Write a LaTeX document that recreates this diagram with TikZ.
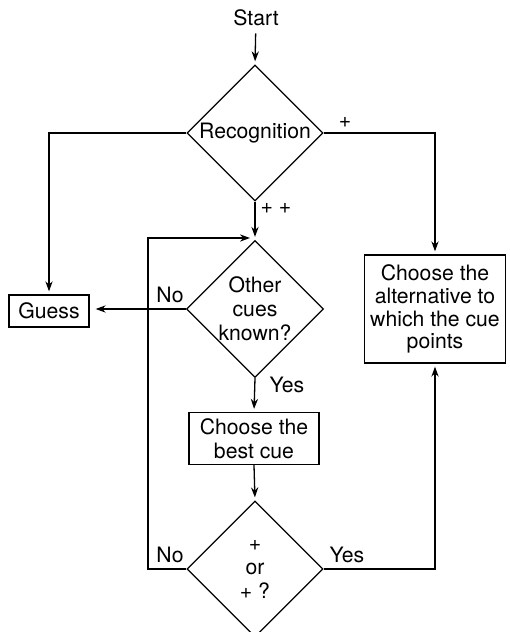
\documentclass[tikz,border=0pt]{standalone}
\usepackage{fontspec}
\setmainfont{TeX Gyre Heros}
\usetikzlibrary{shapes.geometric,arrows.meta}

\tikzset{
  box/.style={draw, align=center, inner sep=0pt},
  decision/.style={draw, diamond, align=center, inner sep=0pt, minimum width=68pt, minimum height=68pt},
  flow/.style={-{Stealth[length=5pt,width=3.6pt]}, shorten >=1.5pt},
}

\begin{document}
\begin{tikzpicture}[x=0.5pt,y=-0.5pt,line width=0.65pt,font=\fontsize{10.6}{12}\selectfont]
\clip (0,0) rectangle (509,632);

\node (start) at (256,18) {Start};
\node[decision] (recog) at (255,133) {Recognition};
\node[box, minimum width=40pt, minimum height=16pt] (guess) at (49,311) {Guess};
\node[box, minimum width=70.5pt, minimum height=54pt, font=\fontsize{10.6}{11.4}\selectfont] (alt) at (435,309) {Choose the\\alternative to\\which the cue\\points};
\node[decision] (cues) at (255,309) {Other\\cues\\known?};
\node[box, minimum width=65pt, minimum height=26pt] (best) at (254,438.5) {Choose the\\best cue};
\node[decision] (plus) at (255,569) {+\\or\\+ ?};

\coordinate (corner) at (148,238);
\coordinate (back) at (250,238);

\draw [flow] (start) -- (recog.north);
\draw [flow] (recog.west) -| (guess.north);
\draw [flow] (recog.east) -| (alt.north);
\draw [flow] (recog.south) -- (cues.north);
\draw [flow, shorten >=3pt] (cues.west) -- (cues.west -| guess.east);
\draw [flow] (cues.south) -- (best.north);
\draw [flow] (best.south) -- (plus.north);
\draw [flow] (plus.east) -| (alt.south);
\draw [flow, shorten >=0pt] (plus.west) -| (corner) -- (back);

% branch labels
\node (lplus) at (345,122) {+};
\node (lpp) at (276,208) {+ +};
\node (lno1) at (170,295) {No};
\node (lyes1) at (287,385) {Yes};
\node (lno2) at (170,555) {No};
\node (lyes2) at (347,555) {Yes};

\end{tikzpicture}
\end{document}
